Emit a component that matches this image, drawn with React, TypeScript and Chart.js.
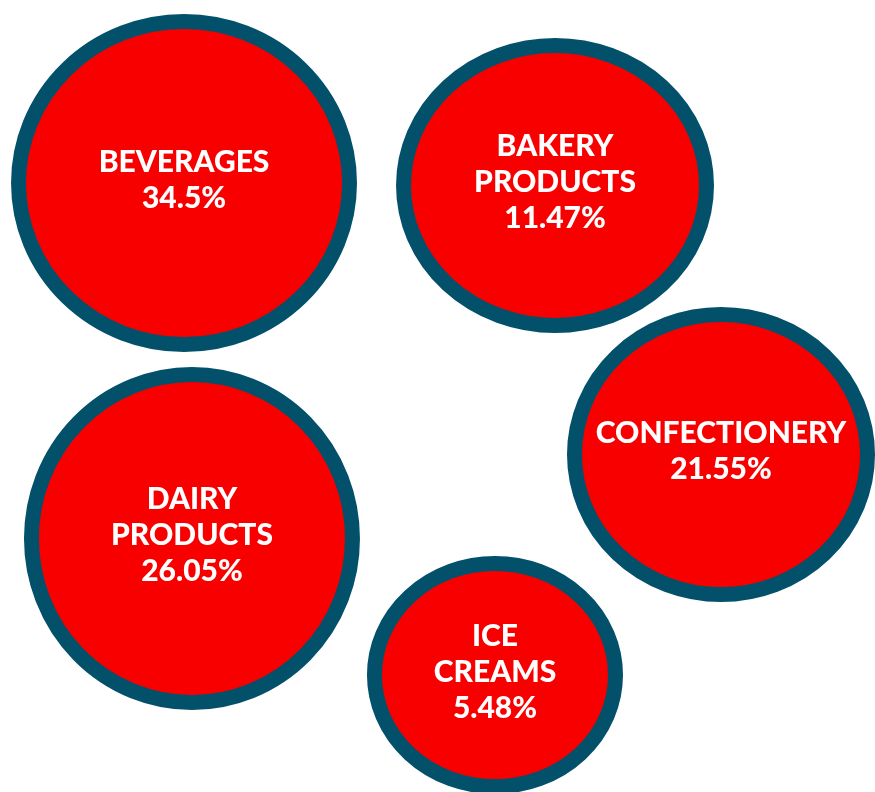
import React, { useEffect, useRef } from "react";
import { Chart, registerables } from "chart.js";

Chart.register(...registerables);

// Categories (each entry is a list of label lines)
const categoryLines: string[][] = [
  ["BEVERAGES"],
  ["BAKERY", "PRODUCTS"],
  ["CONFECTIONERY"],
  ["DAIRY", "PRODUCTS"],
  ["ICE", "CREAMS"],
];
// Share of each category (%)
const shares: number[] = [34.5, 11.47, 21.55, 26.05, 5.48];
// Bubble centres on hidden axes (0-100)
const bubbleX: number[] = [21.03, 63.43, 82.4, 21.94, 56.57];
const bubbleY: number[] = [76.89, 76.58, 42.61, 32.01, 14.77];
// Bubble outer radii in axis units (horizontal / vertical)
const bubbleRX: number[] = [19.77, 18.17, 17.6, 19.2, 14.63];
const bubbleRY: number[] = [21.34, 18.62, 18.62, 21.65, 15.03];

const FILL = "#F80000";
const BORDER = "#03506B";
const BORDER_W = 15;

const ellipsePlugin = {
  id: "ellipseBubbles",
  afterDatasetsDraw(chart: any) {
    const ctx = chart.ctx as CanvasRenderingContext2D;
    const xs = chart.scales.x;
    const ys = chart.scales.y;
    const meta = chart.getDatasetMeta(0);
    ctx.save();
    meta.data.forEach((pt: any, i: number) => {
      const cx = pt.x;
      const cy = pt.y;
      const rx = Math.abs(xs.getPixelForValue(bubbleX[i] + bubbleRX[i]) - cx) - BORDER_W / 2;
      const ry = Math.abs(ys.getPixelForValue(bubbleY[i] + bubbleRY[i]) - cy) - BORDER_W / 2;
      ctx.beginPath();
      ctx.ellipse(cx, cy, rx, ry, 0, 0, Math.PI * 2);
      ctx.fillStyle = FILL;
      ctx.fill();
      ctx.lineWidth = BORDER_W;
      ctx.strokeStyle = BORDER;
      ctx.stroke();

      const lines = [...categoryLines[i], `${shares[i]}%`];
      const lh = 36;
      ctx.fillStyle = "#FFFFFF";
      ctx.font = "900 30px Lato";
      ctx.textAlign = "center";
      ctx.textBaseline = "middle";
      const startY = cy - 3 - ((lines.length - 1) * lh) / 2;
      lines.forEach((t, k) => {
        ctx.fillText(t, cx, startY + k * lh);
      });
    });
    ctx.restore();
  },
};

export default function App() {
  const ref = useRef<HTMLCanvasElement | null>(null);
  useEffect(() => {
    document.body.style.margin = "0";
    const canvas = ref.current!;
    const chart = new Chart(canvas, {
      type: "scatter",
      data: {
        datasets: [
          {
            label: "Share",
            data: bubbleX.map((x, i) => ({ x, y: bubbleY[i] })),
            pointRadius: 0,
            pointHoverRadius: 0,
          },
        ],
      },
      options: {
        responsive: false,
        animation: false,
        layout: { padding: 0 },
        plugins: { legend: { display: false }, tooltip: { enabled: false } },
        scales: {
          x: { type: "linear", min: 0, max: 100, display: false },
          y: { type: "linear", min: 0, max: 100, display: false },
        },
      },
      plugins: [ellipsePlugin],
    });
    return () => chart.destroy();
  }, []);
  return (
    <div style={{ width: 875, height: 792, background: "#fff" }}>
      <canvas ref={ref} width={875} height={792} style={{ display: "block" }} />
    </div>
  );
}
